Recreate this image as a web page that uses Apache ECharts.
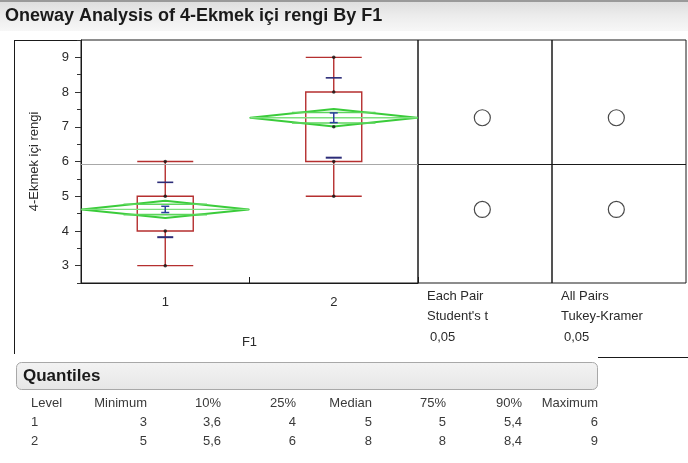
<!DOCTYPE html>
<html><head><meta charset="utf-8">
<script src="https://cdn.jsdelivr.net/npm/echarts@6/dist/echarts.min.js"></script>
<style>html,body{margin:0;padding:0;background:#fff}#c{width:688px;height:463px}</style>
</head><body><div id="c"></div>
<script>
// ---------- data ----------
const categories = ['1', '2'];
const boxData = [[3, 4, 5, 5, 6], [5, 6, 8, 8, 9]];        // min, q1, median, q3, max
const means = [4.62, 7.26];
const ciHalf = [0.25, 0.25];                              // mean diamond half-height
const overlapHalf = [0.15, 0.15];                         // overlap marks
const seHalf = [0.09, 0.14];                              // std error bars
const sdLow = [3.82, 6.11];                               // mean - std dev
const sdHigh = [5.40, 8.41];                              // mean + std dev
const pointGroup = [0, 0, 0, 0, 1, 1, 1, 1, 1];
const pointValue = [3, 4, 5, 6, 5, 6, 7, 8, 9];
const grandMean = 5.93;
const circleX = [0.48, 0.48];
const yMajorTicks = [3, 4, 5, 6, 7, 8, 9];
const yMinorTicks = [2.5, 3.5, 4.5, 5.5, 6.5, 7.5, 8.5, 9.5];
const quantileHeaders = ['Level', 'Minimum', '10%', '25%', 'Median', '75%', '90%', 'Maximum'];
const quantileRow1 = ['1', '3', '3,6', '4', '5', '5', '5,4', '6'];
const quantileRow2 = ['2', '5', '5,6', '6', '8', '8', '8,4', '9'];
const panelLabels1 = ['Each Pair', "Student's t", '0,05'];
const panelLabels2 = ['All Pairs', 'Tukey-Kramer', '0,05'];

// ---------- layout ----------
const FONT = '"Liberation Sans", Arial, sans-serif';
const TXT = '#2a2a2a';
const colRight = [null, 147, 221, 296, 372, 446, 522, 598];
const rowY = [403, 422, 441];

const chart = echarts.init(document.getElementById('c'), null, {renderer: 'canvas'});

const pts = pointGroup.map((g, i) => [g, pointValue[i]]);
const diamondData = means.map((m, i) => [i, m, ciHalf[i], overlapHalf[i]]);
const seData = means.map((m, i) => [i, m, seHalf[i]]);
const sdData = sdLow.map((v, i) => [i, v, sdHigh[i]]);
const circleData = means.map((m, i) => [circleX[i], m]);

const tableTexts = [];
[quantileHeaders, quantileRow1, quantileRow2].forEach((row, r) => {
  row.forEach((t, c) => {
    tableTexts.push({
      type: 'text',
      x: c === 0 ? 31 : colRight[c],
      y: rowY[r],
      style: {text: t, fill: '#3a3a3a', font: '13px ' + FONT,
        textAlign: c === 0 ? 'left' : 'right', textVerticalAlign: 'middle'}
    });
  });
});
const panelTexts = [];
[[panelLabels1, 427], [panelLabels2, 561]].forEach(([arr, x]) => {
  arr.forEach((t, i) => {
    panelTexts.push({type: 'text', x: x + (i === 2 ? 3 : 0), y: 296 + i * 20.5,
      style: {text: t, fill: TXT, font: '13px ' + FONT, textVerticalAlign: 'middle'}});
  });
});

const yBase = {type: 'value', min: 2.5, max: 9.5, splitLine: {show: false}};

const option = {
  animation: false,
  backgroundColor: '#fff',
  grid: [
    {left: 81, top: 40, width: 337, height: 243, show: true, borderColor: '#1a1a1a', borderWidth: 1, backgroundColor: 'transparent'},
    {left: 418, top: 40, width: 134, height: 243, show: true, borderColor: '#1a1a1a', borderWidth: 1, backgroundColor: 'transparent'},
    {left: 552, top: 40, width: 134, height: 243, show: true, borderColor: '#1a1a1a', borderWidth: 1, backgroundColor: 'transparent'}
  ],
  xAxis: [
    {type: 'category', gridIndex: 0, data: categories, boundaryGap: true,
      axisLine: {lineStyle: {color: '#1a1a1a', width: 1}},
      axisTick: {show: true, inside: true, length: 6, lineStyle: {color: '#1a1a1a'}},
      axisLabel: {color: TXT, fontSize: 13, fontFamily: FONT, margin: 13},
      name: 'F1', nameLocation: 'middle', nameGap: 53,
      nameTextStyle: {color: TXT, fontSize: 13, fontFamily: FONT}},
    {type: 'value', gridIndex: 1, min: 0, max: 1, show: false},
    {type: 'value', gridIndex: 2, min: 0, max: 1, show: false}
  ],
  yAxis: [
    Object.assign({}, yBase, {gridIndex: 0, position: 'left',
      axisLine: {show: true, lineStyle: {color: '#1a1a1a', width: 1}},
      axisTick: {show: true, length: 6, customValues: yMajorTicks, lineStyle: {color: '#333'}},
      axisLabel: {color: TXT, fontSize: 13, fontFamily: FONT, margin: 12, customValues: yMajorTicks},
      name: '4-Ekmek içi rengi', nameLocation: 'middle', nameGap: 40, nameRotate: 90,
      nameTextStyle: {color: TXT, fontSize: 13, fontFamily: FONT}}),
    Object.assign({}, yBase, {gridIndex: 0, position: 'left', offset: 0,
      axisLine: {show: false},
      axisTick: {show: true, length: 4, customValues: yMinorTicks, lineStyle: {color: '#333'}},
      axisLabel: {show: false}}),
    Object.assign({}, yBase, {gridIndex: 1, show: false}),
    Object.assign({}, yBase, {gridIndex: 2, show: false})
  ],
  series: [
    {type: 'boxplot', xAxisIndex: 0, yAxisIndex: 0, data: boxData, boxWidth: [56, 56],
      itemStyle: {color: 'rgba(0,0,0,0)', borderColor: '#b52f2f', borderWidth: 1.4},
      emphasis: {disabled: true}, z: 2,
      markLine: {silent: true, symbol: 'none', label: {show: false},
        lineStyle: {color: '#a8a8a8', width: 1, type: 'solid'}, data: [{yAxis: grandMean}]}},
    {type: 'custom', xAxisIndex: 0, yAxisIndex: 0, data: diamondData, z: 3, clip: true,
      renderItem: function (params, api) {
        const x = api.value(0), m = api.value(1), h = api.value(2), o = api.value(3);
        const c = api.coord([x, m]);
        const t = api.coord([x, m + h]);
        const b = api.coord([x, m - h]);
        const oa = api.coord([x, m + o]);
        const ob = api.coord([x, m - o]);
        const hw = api.size([1, 0])[0] * 0.495;
        const ow = hw * 0.5;
        const g = '#3acc3a';
        return {type: 'group', children: [
          {type: 'polygon', shape: {points: [[c[0] - hw, c[1]], [c[0], t[1]], [c[0] + hw, c[1]], [c[0], b[1]]]},
            style: {fill: 'none', stroke: g, lineWidth: 2, lineJoin: 'round'}},
          {type: 'line', shape: {x1: c[0] - hw, y1: c[1], x2: c[0] + hw, y2: c[1]}, style: {stroke: '#7ee07e', lineWidth: 1.4}},
          {type: 'line', shape: {x1: c[0] - ow, y1: oa[1], x2: c[0] + ow, y2: oa[1]}, style: {stroke: '#5cd65c', lineWidth: 1.6}},
          {type: 'line', shape: {x1: c[0] - ow, y1: ob[1], x2: c[0] + ow, y2: ob[1]}, style: {stroke: '#5cd65c', lineWidth: 1.6}}
        ]};
      }},
    {type: 'custom', xAxisIndex: 0, yAxisIndex: 0, data: sdData, z: 4,
      renderItem: function (params, api) {
        const x = api.value(0);
        const a = api.coord([x, api.value(1)]);
        const b = api.coord([x, api.value(2)]);
        const w = 8;
        return {type: 'group', children: [
          {type: 'line', shape: {x1: a[0] - w, y1: a[1], x2: a[0] + w, y2: a[1]}, style: {stroke: '#2c2c78', lineWidth: 2}},
          {type: 'line', shape: {x1: b[0] - w, y1: b[1], x2: b[0] + w, y2: b[1]}, style: {stroke: '#2c2c78', lineWidth: 1.6}}
        ]};
      }},
    {type: 'custom', xAxisIndex: 0, yAxisIndex: 0, data: seData, z: 5,
      renderItem: function (params, api) {
        const x = api.value(0), m = api.value(1), s = api.value(2);
        const t = api.coord([x, m + s]);
        const b = api.coord([x, m - s]);
        const w = 4;
        const col = '#2b3f9e';
        return {type: 'group', children: [
          {type: 'line', shape: {x1: t[0], y1: t[1], x2: b[0], y2: b[1]}, style: {stroke: col, lineWidth: 1.5}},
          {type: 'line', shape: {x1: t[0] - w, y1: t[1], x2: t[0] + w, y2: t[1]}, style: {stroke: col, lineWidth: 1.5}},
          {type: 'line', shape: {x1: b[0] - w, y1: b[1], x2: b[0] + w, y2: b[1]}, style: {stroke: col, lineWidth: 1.5}}
        ]};
      }},
    {type: 'scatter', xAxisIndex: 0, yAxisIndex: 0, data: pts, symbolSize: 3.5, z: 6,
      itemStyle: {color: '#111'}, emphasis: {disabled: true}},
    {type: 'scatter', xAxisIndex: 1, yAxisIndex: 2, data: circleData, symbol: 'circle', symbolSize: 16,
      itemStyle: {color: 'rgba(0,0,0,0)', borderColor: '#1a1a1a', borderWidth: 1.2}, emphasis: {disabled: true},
      markLine: {silent: true, symbol: 'none', label: {show: false},
        lineStyle: {color: '#1a1a1a', width: 1, type: 'solid'}, data: [{yAxis: grandMean}]}},
    {type: 'scatter', xAxisIndex: 2, yAxisIndex: 3, data: circleData, symbol: 'circle', symbolSize: 16,
      itemStyle: {color: 'rgba(0,0,0,0)', borderColor: '#1a1a1a', borderWidth: 1.2}, emphasis: {disabled: true},
      markLine: {silent: true, symbol: 'none', label: {show: false},
        lineStyle: {color: '#1a1a1a', width: 1, type: 'solid'}, data: [{yAxis: grandMean}]}}
  ],
  graphic: [
    {type: 'rect', shape: {x: 0, y: 0, width: 688, height: 31}, z: -1,
      style: {fill: new echarts.graphic.LinearGradient(0, 0, 0, 1, [
        {offset: 0, color: '#dcdcdc'}, {offset: 0.5, color: '#ececec'}, {offset: 1, color: '#f7f7f7'}])}},
    {type: 'rect', shape: {x: 0, y: 0, width: 688, height: 2}, style: {fill: '#9a9a9a'}},
    {type: 'text', x: 5, y: 16, style: {text: 'Oneway Analysis of 4-Ekmek içi rengi By F1',
      fill: '#1a1a1a', font: 'bold 18px ' + FONT, textVerticalAlign: 'middle'}},
    {type: 'line', shape: {x1: 14.5, y1: 40, x2: 14.5, y2: 354}, style: {stroke: '#1a1a1a', lineWidth: 1}},
    {type: 'line', shape: {x1: 14, y1: 40.5, x2: 82, y2: 40.5}, style: {stroke: '#1a1a1a', lineWidth: 1}},
    {type: 'line', shape: {x1: 598, y1: 357.5, x2: 688, y2: 357.5}, style: {stroke: '#1a1a1a', lineWidth: 1}},
    {type: 'rect', shape: {x: 16.5, y: 362.5, width: 581, height: 27, r: 5},
      style: {fill: new echarts.graphic.LinearGradient(0, 0, 0, 1, [
        {offset: 0, color: '#f3f3f3'}, {offset: 1, color: '#e6e6e6'}]), stroke: '#a8a8a8', lineWidth: 1}},
    {type: 'text', x: 23, y: 376, style: {text: 'Quantiles', fill: '#1a1a1a', font: 'bold 17px ' + FONT, textVerticalAlign: 'middle'}}
  ].concat(panelTexts, tableTexts)
};
chart.setOption(option);
</script>
</body></html>
